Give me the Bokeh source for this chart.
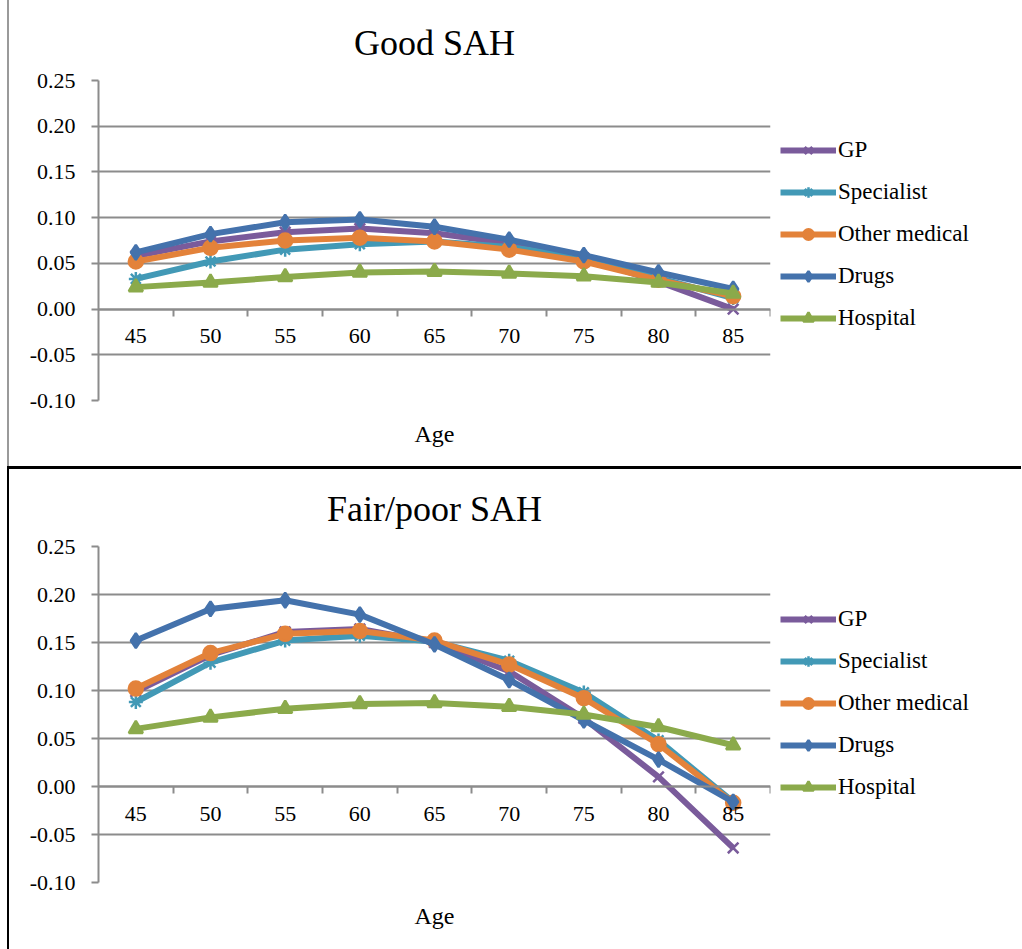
from bokeh.plotting import figure
from bokeh.models import Range1d, FixedTicker, Legend, LegendItem, Title, NumeralTickFormatter
from bokeh.layouts import column, row
from bokeh.embed import file_html
from bokeh.resources import INLINE

# ---------------- data ----------------
ages = [45, 50, 55, 60, 65, 70, 75, 80, 85]
y_ticks = [-0.10, -0.05, 0.00, 0.05, 0.10, 0.15, 0.20, 0.25]
series_names = ["GP", "Specialist", "Other medical", "Drugs", "Hospital"]

good_gp = [0.058, 0.074, 0.084, 0.088, 0.083, 0.072, 0.056, 0.030, 0.000]
good_specialist = [0.033, 0.052, 0.065, 0.071, 0.074, 0.068, 0.056, 0.034, 0.012]
good_other = [0.052, 0.067, 0.075, 0.078, 0.074, 0.065, 0.052, 0.032, 0.014]
good_drugs = [0.062, 0.082, 0.095, 0.098, 0.090, 0.076, 0.059, 0.040, 0.022]
good_hospital = [0.024, 0.029, 0.035, 0.040, 0.041, 0.039, 0.036, 0.029, 0.017]

fair_gp = [0.099, 0.137, 0.161, 0.164, 0.150, 0.120, 0.071, 0.010, -0.064]
fair_specialist = [0.088, 0.129, 0.152, 0.157, 0.151, 0.131, 0.098, 0.048, -0.016]
fair_other = [0.102, 0.139, 0.159, 0.162, 0.152, 0.127, 0.092, 0.044, -0.017]
fair_drugs = [0.152, 0.185, 0.194, 0.179, 0.148, 0.111, 0.069, 0.028, -0.016]
fair_hospital = [0.060, 0.072, 0.081, 0.086, 0.087, 0.083, 0.075, 0.062, 0.043]

# ---------------- style ----------------
FONT = "Liberation Serif"
GRID = "#8c8c8c"
colors = ["#7A5B9B", "#4299B6", "#E3823A", "#4472AC", "#8BAA4B"]
markers = ["x", "asterisk", "circle", "diamond", "triangle"]
msizes = [15, 14, 14, 15, 14]
LINE_W = 6
MAIN_W = 771
LEG_W = 241


def make_panel(title, data, height, b_left, b_top, b_bottom, legend_xy, styles):
    step = ages[1] - ages[0]
    p = figure(width=MAIN_W, height=height, output_backend="svg", toolbar_location=None,
               x_range=Range1d(ages[0] - step / 2, ages[-1] + step / 2),
               y_range=Range1d(y_ticks[0], y_ticks[-1]),
               min_border_left=b_left, min_border_right=MAIN_W - b_left - 672,
               min_border_top=b_top, min_border_bottom=b_bottom)
    p.outline_line_color = None
    p.background_fill_color = None
    p.border_fill_color = None

    p.title.text = title
    p.title.align = "center"
    p.title.text_font = FONT
    p.title.text_font_size = "36px"
    p.title.text_font_style = "normal"
    p.title.text_color = "black"
    p.title.standoff = 35

    # y axis
    yax = p.yaxis[0]
    yax.ticker = FixedTicker(ticks=y_ticks)
    yax.formatter = NumeralTickFormatter(format="0.00")
    yax.axis_line_color = GRID
    yax.axis_line_width = 2
    yax.major_tick_line_color = GRID
    yax.major_tick_line_width = 2
    yax.major_tick_out = 7
    yax.major_tick_in = 0
    yax.minor_tick_line_color = None
    yax.major_label_text_font = FONT
    yax.major_label_text_font_size = "22px"
    yax.major_label_text_color = "black"
    yax.major_label_standoff = 16

    # x axis crossing at zero
    xax = p.xaxis[0]
    xax.fixed_location = 0
    xax.ticker = FixedTicker(ticks=ages,
                             minor_ticks=[a + step / 2 for a in ages])
    xax.axis_line_color = GRID
    xax.axis_line_width = 2
    xax.major_tick_line_color = None
    xax.major_tick_out = 0
    xax.major_tick_in = 0
    xax.minor_tick_line_color = GRID
    xax.minor_tick_line_width = 2
    xax.minor_tick_out = 7
    xax.minor_tick_in = 0
    xax.major_label_text_font = FONT
    xax.major_label_text_font_size = "22px"
    xax.major_label_text_color = "black"
    xax.major_label_standoff = 13

    p.xgrid.visible = False
    p.ygrid.grid_line_color = GRID
    p.ygrid.grid_line_width = 2

    p.add_layout(Title(text="Age", align="center", text_font=FONT, text_font_size="24px",
                       text_font_style="normal", text_color="black", standoff=37), "below")

    for vals, c, m, s in zip(data, colors, markers, msizes):
        p.line(ages, vals, line_color=c, line_width=LINE_W)
        p.scatter(ages, vals, marker=m, size=s, line_color=c, fill_color=c, line_width=2.5)

    # legend figure: same series, ranges chosen so only the legend keys show
    q = figure(width=LEG_W, height=height, output_backend="svg", toolbar_location=None,
               x_range=Range1d(0, 1), y_range=Range1d(0, 1), min_border=0,
               x_axis_location=None, y_axis_location=None)
    q.grid.visible = False
    q.outline_line_color = None
    q.background_fill_color = None
    q.border_fill_color = None
    items = []
    for name, vals, c, m, s in zip(series_names, data, colors, markers, msizes):
        r1 = q.line(ages, vals, line_color=c, line_width=LINE_W)
        r2 = q.scatter(ages, vals, marker=m, size=s - 2, line_color=c, fill_color=c, line_width=2.5)
        items.append(LegendItem(label=name, renderers=[r1, r2]))
    leg = Legend(items=items, location=legend_xy)
    leg.label_text_font = FONT
    leg.label_text_font_size = "23px"
    leg.label_text_color = "black"
    leg.glyph_width = 56
    leg.glyph_height = 26
    leg.label_height = 26
    leg.spacing = 16
    leg.padding = 0
    leg.margin = 0
    leg.label_standoff = 2
    leg.border_line_color = None
    leg.background_fill_color = None
    q.add_layout(leg, "center")

    return row(p, q, spacing=0, styles=styles)


r1 = make_panel("Good SAH",
                [good_gp, good_specialist, good_other, good_drugs, good_hospital],
                466, 89, 80, 66, (0, 69),
                {"margin-left": "7px", "border-left": "2px solid #9a9a9a"})
r2 = make_panel("Fair/poor SAH",
                [fair_gp, fair_specialist, fair_other, fair_drugs, fair_hospital],
                480, 89, 76, 67, (0, 82),
                {"margin-left": "7px", "border-left": "2px solid black",
                 "border-top": "3px solid black"})

page = column(r1, r2, spacing=0)
open("out.html", "w").write(file_html(page, INLINE))
